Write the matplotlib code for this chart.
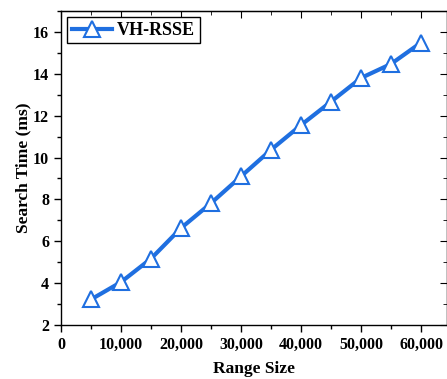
import matplotlib
matplotlib.use("Agg")
import matplotlib.pyplot as plt
from matplotlib.ticker import MultipleLocator, FuncFormatter

plt.rcParams['font.family'] = ['Liberation Serif', 'DejaVu Serif']
plt.rcParams['font.weight'] = 'bold'

range_size = [5000, 10000, 15000, 20000, 25000, 30000, 35000, 40000, 45000, 50000, 55000, 60000]
search_time = [3.22, 4.05, 5.17, 6.63, 7.82, 9.1, 10.37, 11.55, 12.67, 13.8, 14.47, 15.49]
series_name = "VH-RSSE"
color = "#1f6fe0"

fig = plt.figure(figsize=(4.47, 3.79), dpi=100)
ax = fig.add_axes([61 / 447, 1 - 325 / 379, (447 - 61) / 447, (325 - 11) / 379])

ax.plot(range_size, search_time, color=color, lw=3, marker='^', ms=11,
        mfc='white', mec=color, mew=1.5, label=series_name)

ax.set_xlim(0, 64330)
ax.set_ylim(2, 17)
ax.xaxis.set_major_locator(MultipleLocator(10000))
ax.xaxis.set_minor_locator(MultipleLocator(5000))
ax.yaxis.set_major_locator(MultipleLocator(2))
ax.yaxis.set_minor_locator(MultipleLocator(1))
ax.xaxis.set_major_formatter(FuncFormatter(lambda v, p: f"{int(v):,}"))
ax.tick_params(which='major', direction='out', length=5, width=1, labelsize=11.5)
ax.tick_params(which='minor', direction='out', length=3, width=1)
for s in ax.spines.values():
    s.set_linewidth(1)

# mirrored ticks pointing inward on top / right
top = ax.secondary_xaxis('top')
top.xaxis.set_major_locator(MultipleLocator(10000))
top.xaxis.set_minor_locator(MultipleLocator(5000))
top.tick_params(which='major', direction='in', length=5, labeltop=False)
top.tick_params(which='minor', direction='in', length=3)
right = ax.secondary_yaxis('right')
right.yaxis.set_major_locator(MultipleLocator(2))
right.yaxis.set_minor_locator(MultipleLocator(1))
right.tick_params(which='major', direction='in', length=5, labelright=False)
right.tick_params(which='minor', direction='in', length=3)

ax.set_xlabel("Range Size", fontsize=12.5, fontweight='bold', labelpad=6)
ax.set_ylabel("Search Time (ms)", fontsize=12.5, fontweight='bold', labelpad=1)

leg = ax.legend(loc='upper left', fontsize=13, fancybox=False, edgecolor='black',
                framealpha=1, handlelength=2.2, borderpad=0.25, borderaxespad=0.35,
                handletextpad=0.3)
leg.get_frame().set_linewidth(1)

fig.savefig("out.png", dpi=100)
